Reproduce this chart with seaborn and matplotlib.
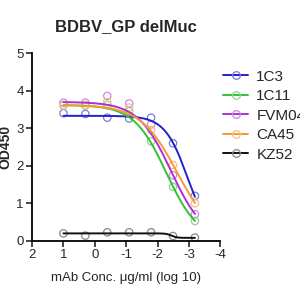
#!/usr/bin/env python3

import numpy as np
import pandas as pd
import seaborn as sns
import matplotlib.pyplot as plt
from matplotlib.lines import Line2D

# log10 of mAb concentration (5-fold dilutions from 10 ug/ml)
log_conc = [1.0, 0.301, -0.398, -1.097, -1.796, -2.495, -3.194]

antibodies = ['1C3', '1C11', 'FVM04', 'CA45', 'KZ52']
od_1C3 = [3.40, 3.38, 3.28, 3.26, 3.28, 2.60, 1.20]
od_1C11 = [3.62, 3.60, 3.62, 3.45, 2.65, 1.44, 0.53]
od_FVM04 = [3.68, 3.68, 3.86, 3.66, 3.10, 1.75, 0.71]
od_CA45 = [3.60, 3.62, 3.70, 3.55, 2.95, 2.02, 1.00]
od_KZ52 = [0.20, 0.14, 0.23, 0.23, 0.23, 0.13, 0.09]

# 4PL fit parameters
fit_top = [3.33, 3.62, 3.70, 3.62, 0.20]
fit_bottom = [0.0, 0.0, 0.0, 0.0, 0.08]
fit_logec50 = [-2.97, -2.285, -2.44, -2.636, -2.45]
fit_hill = [1.18, 0.84, 0.82, 0.74, 5.0]

colors = ['#2222c8', '#33c233', '#b02fd0', '#f59a35', '#111111']
marker_colors = ['#7a7ae0', '#8ad88a', '#c98ae0', '#f5bf85', '#888888']

pts = pd.DataFrame({
    'log_conc': log_conc * 5,
    'od': od_1C3 + od_1C11 + od_FVM04 + od_CA45 + od_KZ52,
    'mAb': np.repeat(antibodies, len(log_conc)),
})

xs = np.linspace(min(log_conc), max(log_conc), 200)
curves = []
for name, top, bot, ec, h in zip(antibodies, fit_top, fit_bottom, fit_logec50, fit_hill):
    ys = bot + (top - bot) / (1 + 10 ** (h * (ec - xs)))
    curves.append(pd.DataFrame({'log_conc': xs, 'od': ys, 'mAb': name}))
curves = pd.concat(curves)

sns.set_style('ticks')
plt.rcParams['font.family'] = ['Liberation Sans', 'DejaVu Sans']
plt.rcParams['axes.unicode_minus'] = False

fig = plt.figure(figsize=(3, 3), dpi=100)
ax = fig.add_axes([0.107, 0.197, 0.627, 0.626])

sns.scatterplot(
        pts,
        x='log_conc',
        y='od',
        hue='mAb',
        palette=dict(zip(antibodies, marker_colors)),
        marker='o',
        s=28,
        linewidth=0.9,
        ax=ax,
        legend=False,
        zorder=2,
)
# open circles: edge takes hue colour
for coll in ax.collections:
    coll.set_edgecolors(coll.get_facecolors())
    coll.set_facecolors('none')

sns.lineplot(
        curves,
        x='log_conc',
        y='od',
        hue='mAb',
        palette=dict(zip(antibodies, colors)),
        linewidth=1.4,
        ax=ax,
        legend=False,
        zorder=3,
)

ax.set_xlim(2, -4)
ax.set_ylim(0, 5)
ax.set_xticks([2, 1, 0, -1, -2, -3, -4])
ax.set_yticks([0, 1, 2, 3, 4, 5])
ax.tick_params(labelsize=9.5, width=1.2, length=4, pad=2)
for s in ['left', 'bottom']:
    ax.spines[s].set_linewidth(1.3)
    ax.spines[s].set_color('black')
sns.despine(ax=ax)

ax.set_xlabel('mAb Conc. \u03bcg/ml (log 10)', fontsize=9.5, labelpad=8)
ax.set_ylabel('OD450', fontsize=10, fontweight='bold', labelpad=3)
ax.set_title('BDBV_GP delMuc', fontsize=12, fontweight='bold', pad=16)

handles = [Line2D([], [], color=c, lw=1.4, marker='o', markersize=5.5,
                  markerfacecolor='none', markeredgecolor=mc, markeredgewidth=0.9)
           for c, mc in zip(colors, marker_colors)]
ax.legend(handles, antibodies, loc='upper left', bbox_to_anchor=(0.985, 0.945),
          frameon=False, fontsize=11, handlelength=1.6, labelspacing=0.36,
          handletextpad=0.55, borderaxespad=0.0)

fig.savefig('out.png', dpi=100)
